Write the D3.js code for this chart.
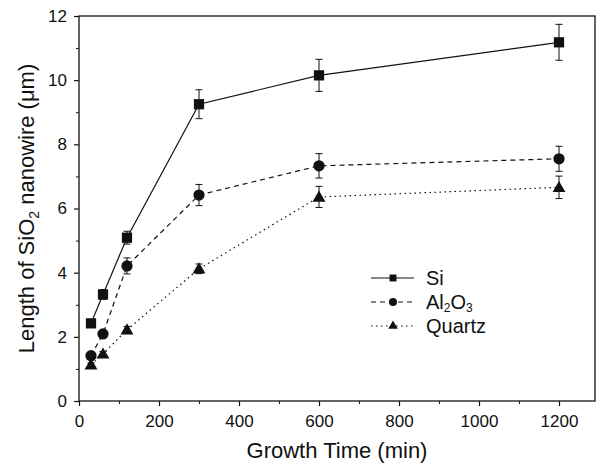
<!DOCTYPE html>
<html>
<head>
<meta charset="utf-8">
<script src="https://cdn.jsdelivr.net/npm/d3@7/dist/d3.min.js"></script>
<style>
  body { margin: 0; background: #fff; }
  svg { display: block; font-family: "Liberation Sans", Arial, sans-serif; }
</style>
</head>
<body>
<svg width="600" height="464"></svg>
<script>
// growth time (min)
const times = [30, 60, 120, 300, 600, 1200];

const siValues = [2.42, 3.32, 5.09, 9.25, 10.15, 11.18];
const siErrors = [0.08, 0.15, 0.2, 0.45, 0.5, 0.56];

const alValues = [1.41, 2.09, 4.21, 6.42, 7.33, 7.55];
const alErrors = [0.06, 0.08, 0.25, 0.33, 0.38, 0.39];

const quartzValues = [1.13, 1.47, 2.22, 4.12, 6.36, 6.66];
const quartzErrors = [0.06, 0.07, 0.1, 0.15, 0.33, 0.35];

const xTicks = [0, 200, 400, 600, 800, 1000, 1200];
const yTicks = [0, 2, 4, 6, 8, 10, 12];

const margin = {top: 16, right: 5, bottom: 63, left: 79};
const width = 600, height = 464;

const svg = d3.select('svg');

const x = d3.scaleLinear().domain([0, 1290]).range([margin.left, width - margin.right]);
const y = d3.scaleLinear().domain([0, 12]).range([height - margin.bottom, margin.top]);

const series = [
  {name: 'Si', values: siValues, errors: siErrors, dash: null, symbol: d3.symbolSquare, size: 105, legendSize: 48},
  {name: 'Al2O3', values: alValues, errors: alErrors, dash: '5,4', symbol: d3.symbolCircle, size: 100, legendSize: 50},
  {name: 'Quartz', values: quartzValues, errors: quartzErrors, dash: '1.5,3.5', symbol: d3.symbolTriangle, size: 72, legendSize: 40}
];

// frame
svg.append('rect')
  .attr('x', x.range()[0]).attr('y', y.range()[1])
  .attr('width', x.range()[1] - x.range()[0])
  .attr('height', y.range()[0] - y.range()[1])
  .attr('fill', 'none').attr('stroke', '#111').attr('stroke-width', 1.3);

// minor ticks
svg.append('g')
  .attr('transform', `translate(0,${y(0)})`)
  .call(d3.axisBottom(x).tickValues(d3.range(100, 1300, 200)).tickSize(3).tickFormat(''))
  .call(g => g.select('.domain').remove())
  .call(g => g.selectAll('line').attr('stroke', '#111'));
svg.append('g')
  .attr('transform', `translate(${x(0)},0)`)
  .call(d3.axisLeft(y).tickValues(d3.range(1, 12, 2)).tickSize(3).tickFormat(''))
  .call(g => g.select('.domain').remove())
  .call(g => g.selectAll('line').attr('stroke', '#111'));

// major axes
svg.append('g')
  .attr('transform', `translate(0,${y(0)})`)
  .call(d3.axisBottom(x).tickValues(xTicks).tickSize(5).tickPadding(9).tickFormat(d3.format('d')))
  .call(g => g.select('.domain').remove())
  .call(g => g.selectAll('line').attr('stroke', '#111').attr('stroke-width', 1.2))
  .call(g => g.selectAll('text').attr('font-size', 17).attr('fill', '#111'));

svg.append('g')
  .attr('transform', `translate(${x(0)},0)`)
  .call(d3.axisLeft(y).tickValues(yTicks).tickSize(5).tickPadding(7))
  .call(g => g.select('.domain').remove())
  .call(g => g.selectAll('line').attr('stroke', '#111').attr('stroke-width', 1.2))
  .call(g => g.selectAll('text').attr('font-size', 17).attr('fill', '#111'));

// axis titles
svg.append('text')
  .attr('x', 337).attr('y', 458)
  .attr('text-anchor', 'middle').attr('font-size', 22).attr('fill', '#111')
  .text('Growth Time (min)');

const yt = svg.append('text')
  .attr('transform', `translate(34,${(y.range()[0] + y.range()[1]) / 2}) rotate(-90)`)
  .attr('text-anchor', 'middle').attr('font-size', 22).attr('fill', '#111');
yt.append('tspan').text('Length of SiO');
yt.append('tspan').attr('font-size', 14).attr('dy', 5).text('2');
yt.append('tspan').attr('dy', -5).text(' nanowire (\u03bcm)');

// series
const line = d3.line().x(d => x(d[0])).y(d => y(d[1]));

series.forEach(s => {
  const pts = times.map((t, i) => [t, s.values[i], s.errors[i]]);
  const g = svg.append('g');
  g.append('path')
    .attr('d', line(pts))
    .attr('fill', 'none').attr('stroke', '#111').attr('stroke-width', 1.2)
    .attr('stroke-dasharray', s.dash);
  g.selectAll('.err').data(pts).join('path')
    .attr('d', d => {
      const cx = x(d[0]), y1 = y(d[1] + d[2]), y2 = y(d[1] - d[2]);
      return `M${cx - 3.5},${y1}H${cx + 3.5}M${cx},${y1}V${y2}M${cx - 3.5},${y2}H${cx + 3.5}`;
    })
    .attr('fill', 'none').attr('stroke', '#111').attr('stroke-width', 1);
  g.selectAll('.mk').data(pts).join('path')
    .attr('transform', d => `translate(${x(d[0])},${y(d[1]) + (s.symbol === d3.symbolTriangle ? 1 : 0)})`)
    .attr('d', d3.symbol(s.symbol, s.size))
    .attr('fill', '#111');
});

// legend
const legend = svg.append('g');
series.forEach((s, i) => {
  const ly = 278 + i * 24;
  legend.append('line')
    .attr('x1', 371).attr('x2', 414).attr('y1', ly).attr('y2', ly)
    .attr('stroke', '#111').attr('stroke-width', 1.2)
    .attr('stroke-dasharray', s.dash);
  legend.append('path')
    .attr('transform', `translate(393,${ly})`)
    .attr('d', d3.symbol(s.symbol, s.legendSize))
    .attr('fill', '#111');
  const t = legend.append('text')
    .attr('x', 426).attr('y', ly + 7)
    .attr('font-size', 20).attr('fill', '#111');
  if (s.name === 'Al2O3') {
    t.append('tspan').text('Al');
    t.append('tspan').attr('font-size', 12).attr('dy', 3).text('2');
    t.append('tspan').attr('dy', -3).text('O');
    t.append('tspan').attr('font-size', 12).attr('dy', 3).text('3');
  } else {
    t.text(s.name);
  }
});
</script>
</body>
</html>
